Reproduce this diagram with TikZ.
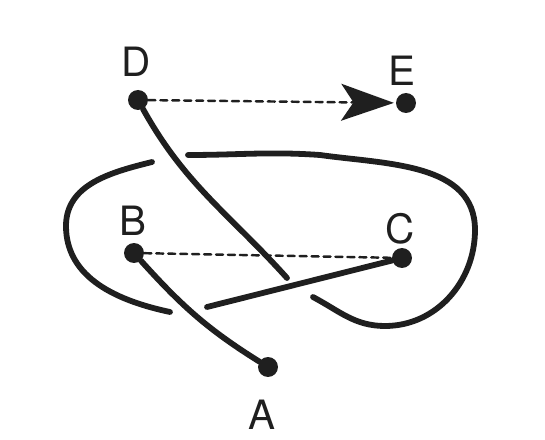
\documentclass[tikz,border=0pt]{standalone}
\usepackage{fontspec}
\setmainfont{TeX Gyre Heros}
\usepackage{xcolor}
\usetikzlibrary{arrows.meta}
\definecolor{ink}{gray}{0.12}

\begin{document}
\begin{tikzpicture}[x=0.02cm, y=0.02cm, line cap=round,
      dot/.style={circle, fill=ink, inner sep=0pt, minimum size=0.4cm},
      lbl/.style={text=ink, inner sep=0pt, font=\fontsize{23}{26}\selectfont},
      strand/.style={draw=ink, line width=3.3pt},
      hint/.style={draw=ink, line width=1.4pt, dash pattern=on 4pt off 2.8pt}]
    \useasboundingbox (0,0) rectangle (545,440);

    \node[dot] (D) at (138,340) {};
    \node[dot] (E) at (406,337) {};
    \node[dot] (B) at (134,187) {};
    \node[dot] (C) at (402,182) {};
    \node[dot] (A) at (268,73) {};

    \node[lbl] (labD) at (136,378) {D};
    \node[lbl] (labE) at (402,369) {E};
    \node[lbl] (labB) at (133,219) {B};
    \node[lbl] (labC) at (400,211) {C};
    \node[lbl] (labA) at (262,25) {A};

    % ends of the strands at the under-crossings
    \coordinate (d1) at (287,162);
    \coordinate (k1) at (313,143);
    \coordinate (k2) at (188,285);
    \coordinate (k3) at (152,278);
    \coordinate (k4) at (170,128);
    \coordinate (k5) at (207,133);

    \draw[strand] (D) to[out=-61,in=132] (d1);
    \draw[strand] (k1) to[out=-28,in=180] (385,114) to[out=0,in=-90] (475,210)
        to[out=90,in=-8] (320,285) to[out=176,in=0] (k2);
    \draw[strand] (k3) to[out=194,in=90] (66,214) to[out=-90,in=168] (k4);
    \draw[strand] (k5) -- (C);
    \draw[strand] (B) to[out=-48,in=148] (A);

    \draw[hint] (B) -- (C);
    \draw[hint, -{Stealth[length=30pt, width=21pt, inset=7pt]}, shorten >=1pt] (D) -- (E);
\end{tikzpicture}
\end{document}
